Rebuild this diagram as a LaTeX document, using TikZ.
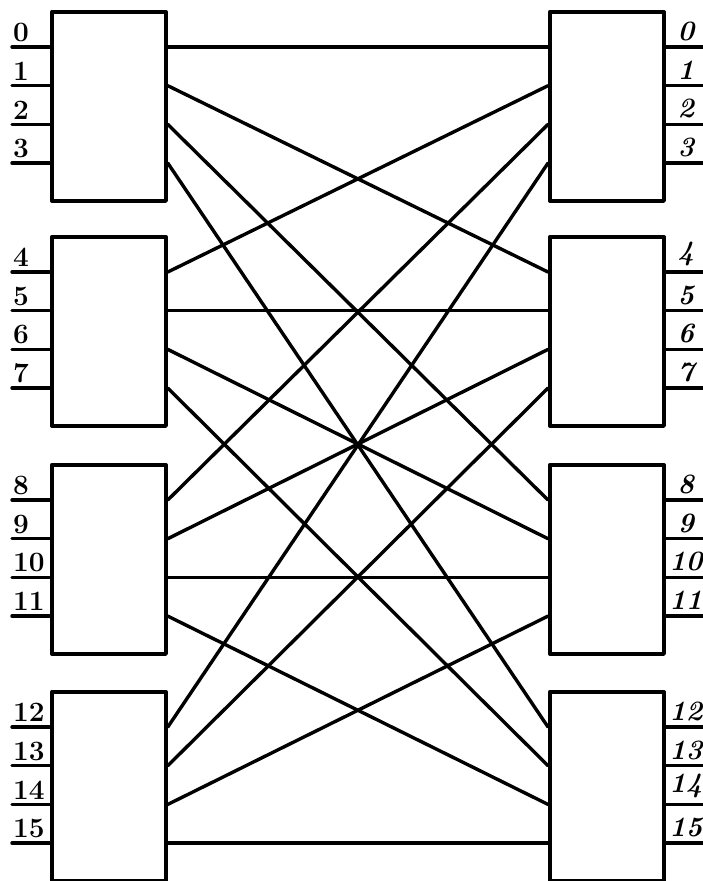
\documentclass[tikz,border=0pt]{standalone}
\usetikzlibrary{calc}
\begin{document}
\begin{tikzpicture}[x=1pt,y=-1pt,line join=round,line cap=round,
  box/.style={draw,line width=3.8pt,minimum width=114pt,minimum height=189pt,inner sep=0pt,anchor=north west},
  wire/.style={line width=3.4pt},
  llab/.style={font=\fontsize{28}{28}\selectfont\bfseries,inner sep=0pt,anchor=south west},
  rlab/.style={font=\fontsize{28}{28}\selectfont\bfseries\itshape,inner sep=0pt,anchor=south}]
\useasboundingbox (0,0) rectangle (703,881);
\foreach \i/\t in {0/10,1/235,2/463,3/690} {
  \node[box] (L\i) at (50,\t) {};
  \node[box] (R\i) at (548,\t) {};
  \foreach \j in {0,1,2,3} {
    \coordinate (L\i-\j) at ($(L\i.north east)+(0,{37+38.7*\j})$);
    \coordinate (R\i-\j) at ($(R\i.north west)+(0,{37+38.7*\j})$);
    \coordinate (LP\i-\j) at ($(L\i.north west)+(-38,{37+38.7*\j})$);
    \coordinate (RP\i-\j) at ($(R\i.north east)+(39,{37+38.7*\j})$);
    \draw[wire] (LP\i-\j) -- (L\i.west |- LP\i-\j);
    \draw[wire] (RP\i-\j) -- (R\i.east |- RP\i-\j);
    \pgfmathtruncatemacro\n{4*\i+\j}
    \node[llab] (LT\n) at ($(LP\i-\j)+(1,-5)$) {\n};
    \node[rlab] (RT\n) at ($(RP\i-\j)+(-19,-6)$) {\n};
  }
}
\foreach \i in {0,1,2,3} {
  \foreach \j in {0,1,2,3} {
    \draw[wire] (L\i-\j) -- (R\j-\i);
  }
}
\end{tikzpicture}
\end{document}
